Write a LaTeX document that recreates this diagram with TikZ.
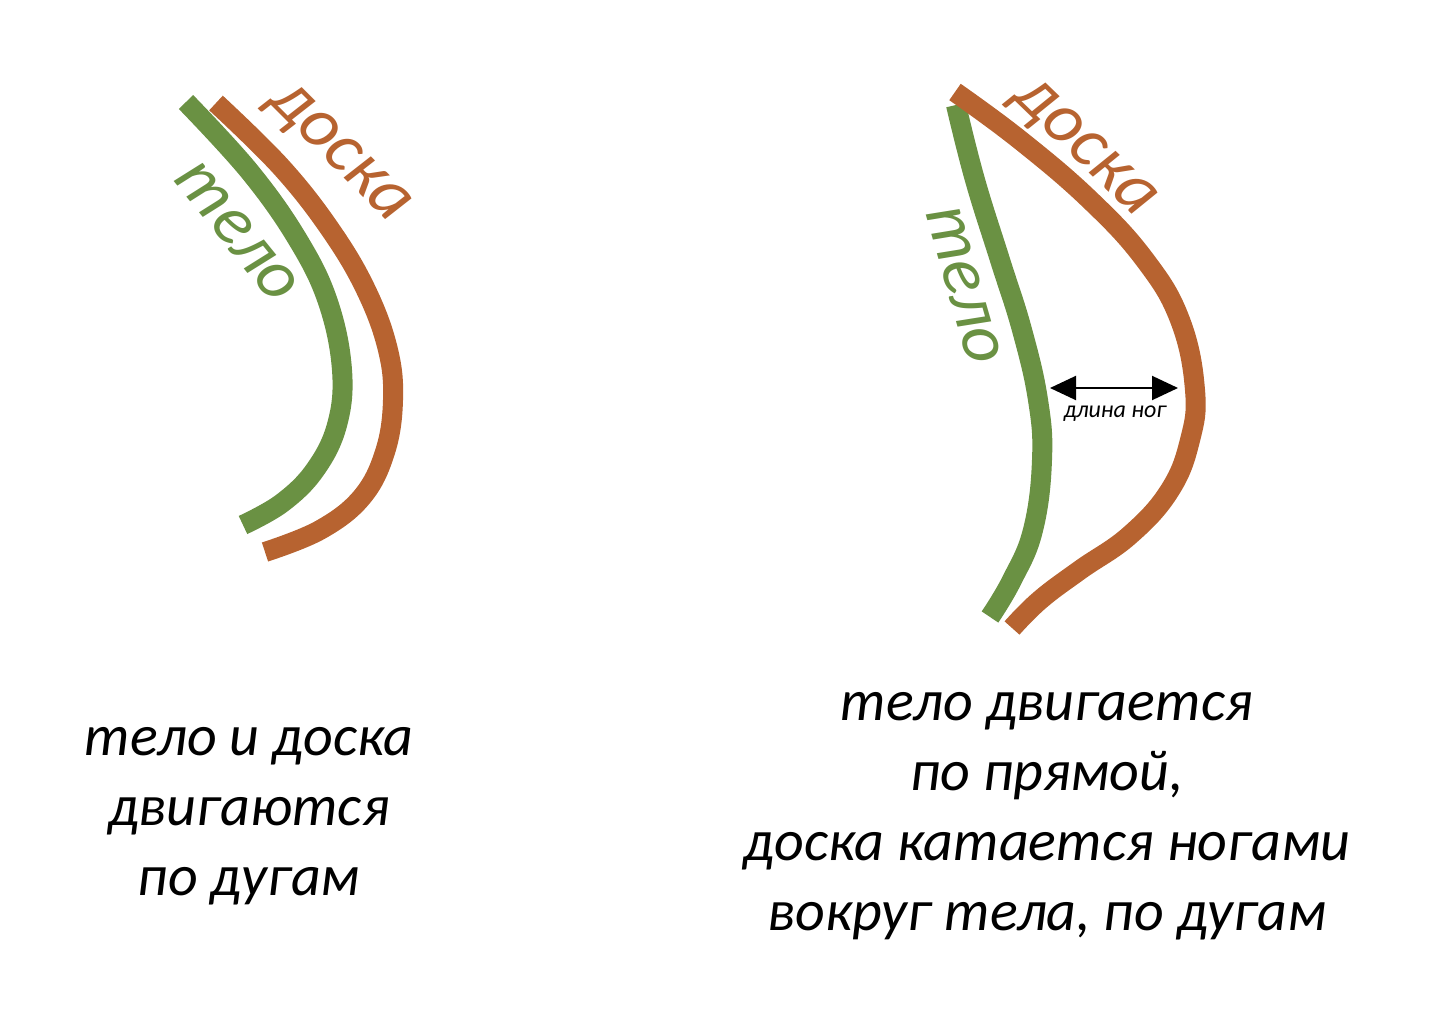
\documentclass[tikz,border=0pt]{standalone}
\usepackage{fontspec}
\setmainfont{Carlito}
\usetikzlibrary{arrows.meta}
\definecolor{bodygreen}{RGB}{106,145,67}
\definecolor{boardorange}{RGB}{183,99,48}
\begin{document}
\begin{tikzpicture}[x=1pt,y=-1pt,
  bodyline/.style={draw=bodygreen,line width=20pt,line cap=butt},
  boardline/.style={draw=boardorange,line width=20pt,line cap=butt},
  glabel/.style={text=bodygreen,font=\fontsize{71}{80}\selectfont\itshape,inner sep=0pt},
  olabel/.style={text=boardorange,font=\fontsize{72}{80}\selectfont\itshape,inner sep=0pt},
  caption/.style={font=\fontsize{58}{70}\selectfont\itshape,align=center,inner sep=0pt},
  measure/.style={line width=2pt,{Triangle[length=26pt,width=24pt]}-{Triangle[length=26pt,width=24pt]}}
]
\useasboundingbox (0,0) rectangle (1438,1032);

% left: body and board both on arcs
\draw[bodyline] plot[smooth,tension=0.65] coordinates {(186,102) (250,172) (298,240) (328,302) (342,370) (337,425) (315,470) (282,503) (243,525)};
\draw[boardline] plot[smooth,tension=0.65] coordinates {(216,103) (282,168) (332,232) (367,292) (388,350) (393,400) (385,452) (362,497) (320,530) (265,552)};
\node[olabel,rotate=-45] (doskaL) at (337,155) {доска};
\node[glabel,rotate=-51] (teloL) at (237,232) {тело};

% right: body straight, board rolling
\draw[bodyline] plot[smooth,tension=0.7] coordinates {(956,105) (975,180) (1000,260) (1022,330) (1038,400) (1042,460) (1033,530) (1012,580) (990,617)};
\draw[boardline] plot[smooth,tension=0.7] coordinates {(955,92) (1020,140) (1090,200) (1145,260) (1180,320) (1195,390) (1190,440) (1170,490) (1130,535) (1080,570) (1040,600) (1012,628)};
\node[olabel,rotate=-44] (doskaR) at (1082,150) {доска};
\node[glabel,rotate=-74] (teloR) at (964,285) {тело};

\coordinate (aL) at (1050,388);
\coordinate (aR) at (1178,388);
\draw[measure] (aL) -- (aR);
\node[font=\fontsize{24}{28}\selectfont\itshape,inner sep=0pt] (legs) at (1115,414) {длина ног};

% captions
\node[caption] (capL) at (249,816) {тело и доска\\двигаются\\по дугам};
\node[caption] (capR) at (1047,816) {тело двигается\\по прямой,\\доска катается ногами\\вокруг тела, по дугам};
\end{tikzpicture}
\end{document}
